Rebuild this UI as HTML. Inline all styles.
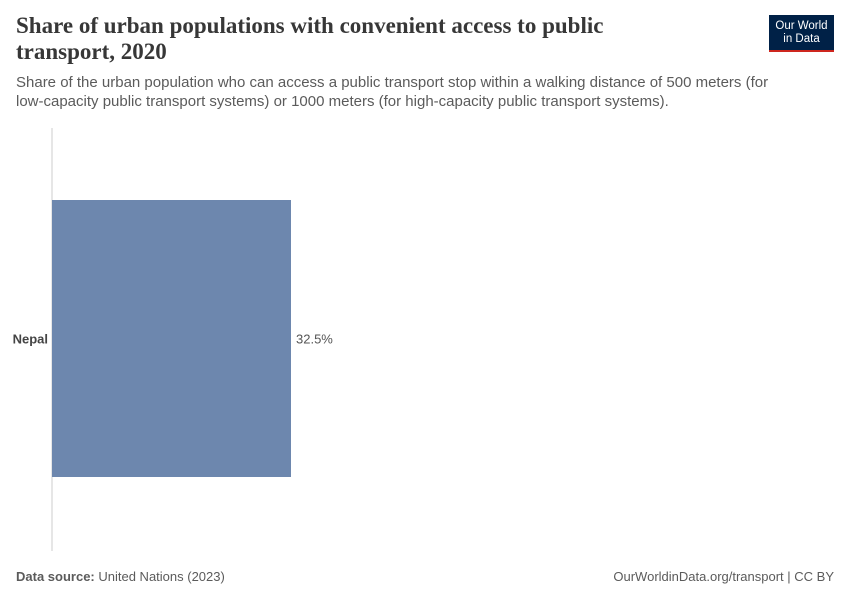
<!DOCTYPE html>
<html><head><meta charset="utf-8"><style>
body{margin:0;width:850px;height:600px;background:#fff;font-family:"Liberation Sans",sans-serif;position:relative;overflow:hidden}
.t{position:absolute;left:16px;top:13px;font-family:"Liberation Serif",serif;font-size:23px;font-weight:bold;line-height:26px;color:#373737;width:610px}
.s{position:absolute;left:16px;top:73px;font-size:15px;line-height:19px;color:#5b5b5b;width:760px}
.f{position:absolute;top:569px;font-size:13px;color:#5b5b5b}
.logo{position:absolute;left:769px;top:15px;width:65px;height:37px;background:#002147;color:#fff;font-size:11.5px;line-height:13px;text-align:center;box-sizing:border-box;padding-top:5px;border-bottom:2px solid #ce261e}
</style></head><body>
<div class="t">Share of urban populations with convenient access to public transport, 2020</div>
<div class="s">Share of the urban population who can access a public transport stop within a walking distance of 500 meters (for low-capacity public transport systems) or 1000 meters (for high-capacity public transport systems).</div>
<div class="logo">Our World<br>in Data</div>
<svg id="c" width="850" height="600" style="position:absolute;left:0;top:0"></svg>
<div class="f" style="left:16px"><b>Data source:</b> United Nations (2023)</div>
<div class="f" style="right:16px">OurWorldinData.org/transport | CC BY</div>
<script>
const categories=["Nepal"];
const values=[32.5];
const valueLabels=["32.5%"];
const svg=document.getElementById('c');
const NS='http://www.w3.org/2000/svg';
const x0=52,pxPerUnit=239/32.5;
const xs=v=>x0+v*pxPerUnit;
const top0=200,bandH=277,gap=0;
function el(t,a){const e=document.createElementNS(NS,t);for(const k in a)e.setAttribute(k,a[k]);svg.appendChild(e);return e;}
const ax=el('line',{x1:x0,x2:x0,y1:128,y2:551,stroke:'#ccc','stroke-width':1});


categories.forEach((c,i)=>{
  const y=top0+i*(bandH+gap);
  const r=el('rect',{x:x0,y:y,width:xs(values[i])-x0,height:bandH,fill:'#6d87ae'});
  
  
  const l=el('text',{x:48,y:y+bandH/2+5,'text-anchor':'end','font-size':13,'font-weight':'bold',fill:'#444'});
  l.textContent=c;
  
  
  const v=el('text',{x:xs(values[i])+5,y:y+bandH/2+5,'font-size':13,fill:'#555'});
  v.textContent=valueLabels[i];
  
  
});
</script>
</body></html>
